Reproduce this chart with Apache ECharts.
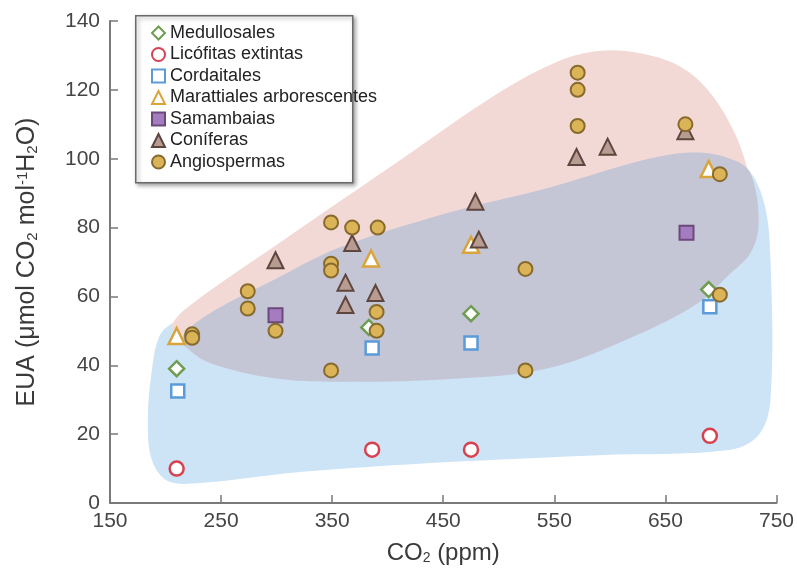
<!DOCTYPE html>
<html><head><meta charset="utf-8">
<script src="https://cdn.jsdelivr.net/npm/echarts@6/dist/echarts.min.js"></script>
<style>html,body{margin:0;padding:0;background:#fff}#c{width:797px;height:573px}</style>
</head><body><div id="c"></div>
<script>
// ---- data ----
const xRange = [150, 750];
const xStep = 100;
const yRange = [0, 140];
const yStep = 20;

const seriesNames = ['Medullosales', 'Licófitas extintas', 'Cordaitales', 'Marattiales arborescentes', 'Samambaias', 'Coníferas', 'Angiospermas'];

const medullosales = [[210, 39], [383, 51], [475, 55], [689, 62]];
const licofitas = [[210, 10], [386, 15.5], [475, 15.5], [690, 19.5]];
const cordaitales = [[211, 32.5], [386, 45], [475, 46.5], [690, 57]];
const marattiales = [[210, 48.5], [385, 71], [475, 75], [689, 97]];
const samambaias = [[299, 54.5], [669, 78.5]];
const coniferas = [[299, 70.5], [368, 75.5], [362, 64], [389, 61], [362, 57.5], [479, 87.5], [482, 76.5], [570, 100.5], [598, 103.5], [668, 108]];
const angiospermas = [[224, 49], [224, 48], [274, 61.5], [274, 56.5], [299, 50], [349, 81.5], [368, 80], [391, 80], [349, 69.5], [349, 67.5], [390, 55.5], [390, 50], [349, 38.5], [524, 68], [524, 38.5], [571, 125], [571, 120], [571, 109.5], [668, 110], [699, 95.5], [699, 60.5]];

// envelope outlines (data space)
const blueRegion = [[194.9, 48.7], [208.4, 52.5], [237.1, 54.5], [296.4, 64.6], [356.6, 74.2], [455.4, 84.4], [545.2, 91.6], [635, 100], [679.9, 101.8], [720.4, 98], [738.3, 87.8], [744.6, 70.4], [744.6, 29.9], [733.8, 19.7], [706.9, 15.4], [590.1, 13.9], [455.4, 11.9], [320.7, 9], [230.8, 5.8], [202.1, 6.4], [187.7, 12.5], [184.1, 24.1], [187.7, 38.6]];
const pinkRegion = [[205.7, 51.6], [221.9, 57.4], [305.4, 76.2], [410.5, 99.4], [500.3, 119.2], [554.2, 128.4], [590.1, 131.3], [626, 130.7], [662, 127], [688.9, 119.7], [711.4, 108.1], [724.8, 95.7], [731, 81.5], [723.5, 73.3], [703, 66.7], [679.9, 58.8], [626, 49.3], [545.2, 39.4], [455.4, 36.2], [356.6, 35.4], [296.4, 36.5], [239.8, 40.9], [221.9, 44.4], [211.1, 48.4]];
const overlapRegion = [[214, 47.6], [237.1, 54.5], [296.4, 64.6], [356.6, 74.2], [455.4, 84.4], [545.2, 91.6], [635, 100], [679.9, 101.8], [713, 99.4], [727, 95.5], [734, 81.5], [726.5, 72.6], [705.5, 65.8], [680.5, 58.3], [626, 49], [545.2, 39.2], [455.4, 36], [356.6, 35.2], [296.4, 36.3], [239.8, 40.7], [221.9, 44.3]];

// ---- chart ----
const FONT = '"Liberation Sans", Arial, Helvetica, sans-serif';
const chart = echarts.init(document.getElementById('c'), null, {renderer: 'canvas'});

function region(name, pts, color, z) {
  return {
    type: 'custom', name: name, silent: true, z: z,
    coordinateSystem: 'cartesian2d',
    data: pts, encode: {x: 0, y: 1},
    renderItem: function (params, api) {
      if (params.dataIndex !== 0) return null;
      const points = pts.map(function (p) { return api.coord(p); });
      return {type: 'polygon', shape: {points: points, smooth: 0.35}, style: {fill: color}};
    }
  };
}

function scat(name, data, symbol, size, fill, stroke, bw) {
  return {
    type: 'scatter', name: name, data: data, symbol: symbol, symbolSize: size, z: 10,
    itemStyle: {color: fill, borderColor: stroke, borderWidth: bw, opacity: 1},
    emphasis: {disabled: true}
  };
}

const styles = [
  ['diamond', 15, '#ffffff', '#6f9d52', 2.5],
  ['circle', 14, '#ffffff', '#d8414f', 2.5],
  ['rect', 13, '#ffffff', '#5b9bd8', 2.5],
  ['triangle', 16, '#ffffff', '#d9a43a', 2.5],
  ['rect', 14, '#a57cc0', '#6a4a7c', 2],
  ['triangle', 16, '#b89c92', '#5e463e', 2],
  ['circle', 14, '#dcb458', '#876a2e', 2]
];
const dataSets = [medullosales, licofitas, cordaitales, marattiales, samambaias, coniferas, angiospermas];

const series = [
  region('blue', blueRegion, '#cde3f6', 1),
  region('pink', pinkRegion, '#f3d9d5', 2),
  region('overlap', overlapRegion, '#c4c5d5', 3)
];
seriesNames.forEach(function (n, i) {
  const s = styles[i];
  series.push(scat(n, dataSets[i], s[0], s[1], s[2], s[3], s[4]));
});

const axisCol = '#7a7a7a';
const option = {
  backgroundColor: '#ffffff',
  animation: false,
  grid: {left: 110, right: 19, top: 21, bottom: 70},
  xAxis: {
    type: 'value', min: xRange[0], max: xRange[1], interval: xStep,
    name: 'CO{sub|2} (ppm)', nameLocation: 'middle', nameGap: 38,
    nameTextStyle: {fontFamily: FONT, fontSize: 24, color: '#3a3a3a',
      rich: {sub: {fontFamily: FONT, fontSize: 14, color: '#3a3a3a', verticalAlign: 'bottom', lineHeight: 20}}},
    axisLine: {show: true, lineStyle: {color: axisCol, width: 2}},
    axisTick: {show: true, inside: true, length: 8, lineStyle: {color: axisCol, width: 1.5}},
    axisLabel: {fontFamily: FONT, fontSize: 21, color: '#454545', margin: 8},
    splitLine: {show: false}
  },
  yAxis: {
    type: 'value', min: yRange[0], max: yRange[1], interval: yStep,
    name: 'EUA (μmol CO{sub|2} mol{sup|-1}H{sub|2}O)', nameLocation: 'middle', nameGap: 70,
    nameTextStyle: {fontFamily: FONT, fontSize: 25, color: '#3a3a3a',
      rich: {
        sub: {fontFamily: FONT, fontSize: 15, color: '#3a3a3a', verticalAlign: 'bottom', lineHeight: 21},
        sup: {fontFamily: FONT, fontSize: 15, color: '#3a3a3a', verticalAlign: 'top', lineHeight: 21}
      }},
    axisLine: {show: true, lineStyle: {color: axisCol, width: 2}},
    axisTick: {show: true, inside: true, length: 8, lineStyle: {color: axisCol, width: 1.5}},
    axisLabel: {fontFamily: FONT, fontSize: 21, color: '#454545', margin: 10},
    splitLine: {show: false}
  },
  graphic: [{
    type: 'rect', left: 135, top: 15, z: 5,
    shape: {width: 217, height: 167},
    style: {fill: '#ffffff', stroke: '#6a6a6a', lineWidth: 1.5,
      shadowBlur: 4, shadowColor: 'rgba(0,0,0,0.35)', shadowOffsetX: 2, shadowOffsetY: 2}
  }],
  legend: {
    orient: 'vertical', left: 151, top: 24, z: 6, padding: 0,
    data: seriesNames, itemWidth: 13, itemHeight: 13, itemGap: 3.5,
    selectedMode: false,
    textStyle: {fontFamily: FONT, fontSize: 18, color: '#222', lineHeight: 18}
  },
  series: series
};
chart.setOption(option);
</script>
</body></html>
